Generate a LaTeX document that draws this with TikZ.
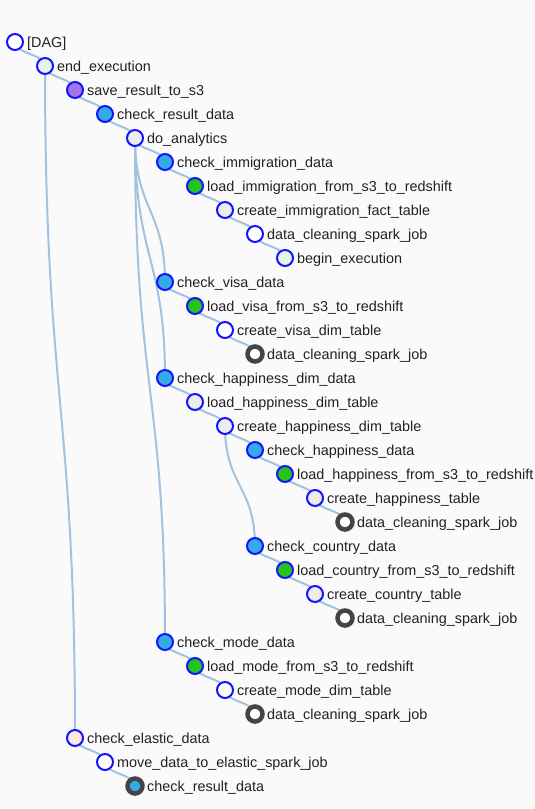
\documentclass[tikz,border=0pt]{standalone}
\usepackage{fontspec}
\setmainfont{Liberation Sans}
\usetikzlibrary{calc,backgrounds}
\definecolor{bgpage}{HTML}{FAFAFA}
\definecolor{linkblue}{HTML}{A2C2E0}
\definecolor{ringblue}{HTML}{1414FF}
\definecolor{ringgray}{HTML}{444444}
\definecolor{palegreen}{HTML}{E7F4E5}
\definecolor{lavender}{HTML}{A176EE}
\definecolor{skyblue}{HTML}{36A9E9}
\definecolor{okgreen}{HTML}{25C41B}
\definecolor{paleg}{HTML}{ECECEC}
\definecolor{palerose}{HTML}{FDE8E8}
\definecolor{txt}{HTML}{222222}
\tikzset{
  task/.style={circle,draw=ringblue,line width=2pt,minimum size=16pt,inner sep=0pt,fill=white},
  done/.style={draw=ringgray,line width=4.5pt,minimum size=15pt},
  lbl/.style={anchor=base west,inner sep=0pt,text=txt,font=\fontsize{14.4}{16}\selectfont},
  link/.style={draw=linkblue,line width=2pt}
}
\newcommand\link[2]{\draw[link] let \p1=(#1.center), \p2=(#2.center) in
  (\p1) .. controls (\x1,{(\y1+\y2)/2}) and (\x2,{(\y1+\y2)/2}) .. (\p2);}
\begin{document}
\begin{tikzpicture}[x=1pt,y=-1pt]
  \useasboundingbox (0,0) rectangle (535,809);
  % tasks
  \node[task] (dag) at (15,42) {};
  \node[task,fill=palegreen] (endx) at (45,66) {};
  \node[task,fill=lavender] (saves) at (75,90) {};
  \node[task,fill=skyblue] (chkres) at (105,114) {};
  \node[task,fill=paleg] (analy) at (135,138) {};
  \node[task,fill=skyblue] (chkimm) at (165,162) {};
  \node[task,fill=okgreen] (loadimm) at (195,186) {};
  \node[task,fill=paleg] (crimm) at (225,210) {};
  \node[task] (clean) at (255,234) {};
  \node[task,fill=palegreen] (begin) at (285,258) {};
  \node[task,fill=skyblue] (chkvisa) at (165,282) {};
  \node[task,fill=okgreen] (loadvisa) at (195,306) {};
  \node[task] (crvisa) at (225,330) {};
  \node[task,done] (cleanv) at (255,354) {};
  \node[task,fill=skyblue] (chkhapd) at (165,378) {};
  \node[task,fill=paleg] (loadhapd) at (195,402) {};
  \node[task,fill=paleg] (crhapd) at (225,426) {};
  \node[task,fill=skyblue] (chkhap) at (255,450) {};
  \node[task,fill=okgreen] (loadhap) at (285,474) {};
  \node[task,fill=paleg] (crhap) at (315,498) {};
  \node[task,done] (cleanh) at (345,522) {};
  \node[task,fill=skyblue] (chkctry) at (255,546) {};
  \node[task,fill=okgreen] (loadctry) at (285,570) {};
  \node[task,fill=paleg] (crctry) at (315,594) {};
  \node[task,done] (cleanc) at (345,618) {};
  \node[task,fill=skyblue] (chkmode) at (165,642) {};
  \node[task,fill=okgreen] (loadmode) at (195,666) {};
  \node[task] (crmode) at (225,690) {};
  \node[task,done] (cleanm) at (255,714) {};
  \node[task,fill=palerose] (chkela) at (75,738) {};
  \node[task] (moveela) at (105,762) {};
  \node[task,done,fill=skyblue] (chkres2) at (135,786) {};
  % labels
  \node[lbl] (dagl) at ($(dag.center)+(12,5)$) {[DAG]};
  \node[lbl] (endxl) at ($(endx.center)+(12,5)$) {end\_execution};
  \node[lbl] (savesl) at ($(saves.center)+(12,5)$) {save\_result\_to\_s3};
  \node[lbl] (chkresl) at ($(chkres.center)+(12,5)$) {check\_result\_data};
  \node[lbl] (analyl) at ($(analy.center)+(12,5)$) {do\_analytics};
  \node[lbl] (chkimml) at ($(chkimm.center)+(12,5)$) {check\_immigration\_data};
  \node[lbl] (loadimml) at ($(loadimm.center)+(12,5)$) {load\_immigration\_from\_s3\_to\_redshift};
  \node[lbl] (crimml) at ($(crimm.center)+(12,5)$) {create\_immigration\_fact\_table};
  \node[lbl] (cleanl) at ($(clean.center)+(12,5)$) {data\_cleaning\_spark\_job};
  \node[lbl] (beginl) at ($(begin.center)+(12,5)$) {begin\_execution};
  \node[lbl] (chkvisal) at ($(chkvisa.center)+(12,5)$) {check\_visa\_data};
  \node[lbl] (loadvisal) at ($(loadvisa.center)+(12,5)$) {load\_visa\_from\_s3\_to\_redshift};
  \node[lbl] (crvisal) at ($(crvisa.center)+(12,5)$) {create\_visa\_dim\_table};
  \node[lbl] (cleanvl) at ($(cleanv.center)+(12,5)$) {data\_cleaning\_spark\_job};
  \node[lbl] (chkhapdl) at ($(chkhapd.center)+(12,5)$) {check\_happiness\_dim\_data};
  \node[lbl] (loadhapdl) at ($(loadhapd.center)+(12,5)$) {load\_happiness\_dim\_table};
  \node[lbl] (crhapdl) at ($(crhapd.center)+(12,5)$) {create\_happiness\_dim\_table};
  \node[lbl] (chkhapl) at ($(chkhap.center)+(12,5)$) {check\_happiness\_data};
  \node[lbl] (loadhapl) at ($(loadhap.center)+(12,5)$) {load\_happiness\_from\_s3\_to\_redshift};
  \node[lbl] (crhapl) at ($(crhap.center)+(12,5)$) {create\_happiness\_table};
  \node[lbl] (cleanhl) at ($(cleanh.center)+(12,5)$) {data\_cleaning\_spark\_job};
  \node[lbl] (chkctryl) at ($(chkctry.center)+(12,5)$) {check\_country\_data};
  \node[lbl] (loadctryl) at ($(loadctry.center)+(12,5)$) {load\_country\_from\_s3\_to\_redshift};
  \node[lbl] (crctryl) at ($(crctry.center)+(12,5)$) {create\_country\_table};
  \node[lbl] (cleancl) at ($(cleanc.center)+(12,5)$) {data\_cleaning\_spark\_job};
  \node[lbl] (chkmodel) at ($(chkmode.center)+(12,5)$) {check\_mode\_data};
  \node[lbl] (loadmodel) at ($(loadmode.center)+(12,5)$) {load\_mode\_from\_s3\_to\_redshift};
  \node[lbl] (crmodel) at ($(crmode.center)+(12,5)$) {create\_mode\_dim\_table};
  \node[lbl] (cleanml) at ($(cleanm.center)+(12,5)$) {data\_cleaning\_spark\_job};
  \node[lbl] (chkelal) at ($(chkela.center)+(12,5)$) {check\_elastic\_data};
  \node[lbl] (moveelal) at ($(moveela.center)+(12,5)$) {move\_data\_to\_elastic\_spark\_job};
  \node[lbl] (chkres2l) at ($(chkres2.center)+(12,5)$) {check\_result\_data};
  % tree links
  \begin{scope}[on background layer]
    \fill[bgpage] (0,0) rectangle (535,809);
    \link{dag}{endx}
    \link{endx}{saves}
    \link{endx}{chkela}
    \link{saves}{chkres}
    \link{chkres}{analy}
    \link{analy}{chkimm}
    \link{analy}{chkvisa}
    \link{analy}{chkhapd}
    \link{analy}{chkmode}
    \link{chkimm}{loadimm}
    \link{loadimm}{crimm}
    \link{crimm}{clean}
    \link{clean}{begin}
    \link{chkvisa}{loadvisa}
    \link{loadvisa}{crvisa}
    \link{crvisa}{cleanv}
    \link{chkhapd}{loadhapd}
    \link{loadhapd}{crhapd}
    \link{crhapd}{chkhap}
    \link{crhapd}{chkctry}
    \link{chkhap}{loadhap}
    \link{loadhap}{crhap}
    \link{crhap}{cleanh}
    \link{chkctry}{loadctry}
    \link{loadctry}{crctry}
    \link{crctry}{cleanc}
    \link{chkmode}{loadmode}
    \link{loadmode}{crmode}
    \link{crmode}{cleanm}
    \link{chkela}{moveela}
    \link{moveela}{chkres2}
  \end{scope}
\end{tikzpicture}
\end{document}
